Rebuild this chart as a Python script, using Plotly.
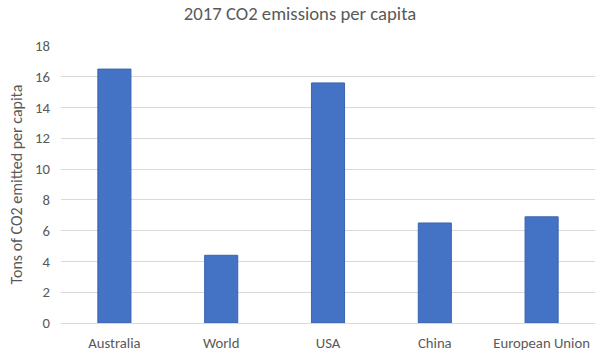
import plotly.graph_objects as go

categories = ["Australia", "World", "USA", "China", "European Union"]
emissions = [16.5, 4.4, 15.6, 6.5, 6.9]
y_ticks = [0, 2, 4, 6, 8, 10, 12, 14, 16, 18]

FONT = "Carlito, Calibri, Open Sans, Liberation Sans, sans-serif"

fig = go.Figure(go.Bar(
    x=categories, y=emissions,
    marker=dict(color="#4472C4", line=dict(color="#3A64B0", width=1)),
))

fig.update_layout(
    width=600, height=355,
    margin=dict(l=61, r=5, t=46, b=32, autoexpand=False),
    paper_bgcolor="white", plot_bgcolor="white",
    bargap=0.69,
    showlegend=False,
    title=dict(text="2017 CO2 emissions per capita", x=0.5, xanchor="center",
               y=0.962, yanchor="middle",
               font=dict(family=FONT, size=18.7, color="#595959")),
    font=dict(family=FONT, size=14.7, color="#595959"),
)
fig.update_xaxes(showgrid=False, showline=False, ticks="", automargin=False, ticklabelstandoff=9,
                 tickfont=dict(size=14.7, color="#595959"))
fig.update_yaxes(range=[0, 18], tickvals=y_ticks, showgrid=True, gridcolor="#D9D9D9", gridwidth=1,
                 zeroline=True, zerolinecolor="#D9D9D9", zerolinewidth=1,
                 showline=False, ticks="", automargin=False, ticklabelstandoff=10,
                 title=dict(text="Tons of CO2 emitted per capita", font=dict(size=16, color="#595959"), standoff=8),
                 tickfont=dict(size=14.7, color="#595959"))

fig.write_html("out.html", config={"displayModeBar": False},
               post_script="document.body.style.margin='0';")
